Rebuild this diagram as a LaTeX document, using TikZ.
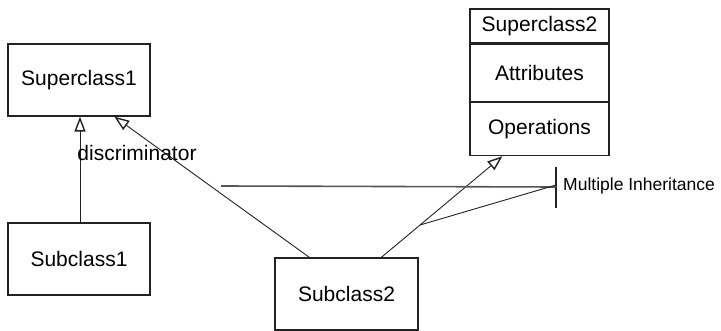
\documentclass[tikz,border=0pt]{standalone}
\usepackage{fontspec}
\setmainfont{Liberation Sans}
\usepackage{tikz}
\usetikzlibrary{calc,arrows.meta,positioning}
\definecolor{LineGray}{HTML}{222222}
\definecolor{BarGray}{HTML}{555555}

\begin{document}
\begin{tikzpicture}[x=1pt,y=-1pt,
    classbox/.style={draw=LineGray,line width=1.3pt,minimum width=142pt,inner sep=0pt,
      font=\fontsize{21}{24}\selectfont},
    gen/.style={draw=LineGray,line width=0.9pt,-{Triangle[open,length=15pt,width=11pt,line width=1.4pt]}}]
  \useasboundingbox (0,0) rectangle (721,331);
  % classes
  \node[classbox,minimum height=72pt] (sup1) at (79,80) {Superclass1};
  \node[classbox,minimum height=72pt] (sub1) at (79,259) {Subclass1};
  \node[classbox,minimum height=72pt,minimum width=143pt] (sub2) at (346.5,294) {Subclass2};
  \node[classbox,minimum width=139pt,minimum height=34pt] (sup2) at (539.5,26) {Superclass2};
  \node[classbox,minimum width=139pt,minimum height=57pt,below=0pt of sup2] (attr) {Attributes};
  \node[classbox,minimum width=139pt,minimum height=53pt,below=0pt of attr] (ops) {Operations};
  % generalisations
  \draw[gen] ([xshift=1pt]sub1.north) -- ([xshift=1pt]sup1.south);
  \draw[gen] ([xshift=35pt]sub2.north west) -- ([xshift=107pt]sup1.south west);
  \draw[gen] ([xshift=107pt]sub2.north west) coordinate (s2r) -- ([xshift=33pt]ops.south west) coordinate (o2);
  \node[font=\fontsize{21}{24}\selectfont,inner sep=0pt] (disc) at (137,153) {discriminator};
  % multiple inheritance marker
  \coordinate (mi) at (556,187);
  \draw[LineGray,line width=1.1pt] (556,167) -- (556,208);
  \draw[BarGray,line width=1.6pt] (221,186) -- (mi);
  \draw[LineGray,line width=0.9pt] ([yshift=2pt]mi) -- ($(s2r)!0.32!(o2)$);
  \node[anchor=west,font=\fontsize{17.5}{20}\selectfont,inner sep=0pt] (milab) at (563,186)
    {Multiple Inheritance};
\end{tikzpicture}
\end{document}
